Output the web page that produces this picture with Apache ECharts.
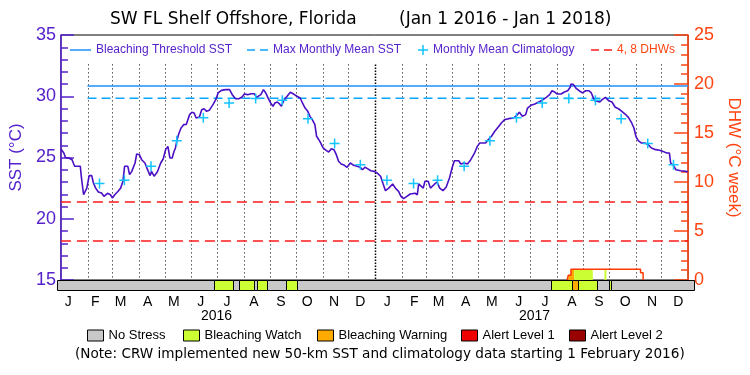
<!DOCTYPE html>
<html>
<head>
<meta charset="utf-8">
<script src="https://cdn.jsdelivr.net/npm/echarts@6/dist/echarts.min.js"></script>
<style>
  html, body { margin: 0; padding: 0; background: #fff; }
  #chart { width: 750px; height: 375px; }
</style>
</head>
<body>
<div id="chart"></div>
<script>
// x values are days counted from Jan 1 2016
const sstDay = [0, 1.5, 3.4, 5.3, 9.2, 13, 14.9, 16, 22.6, 23.7, 26.4, 28.3, 30.2, 32.9, 35.9, 37.9, 40.5, 43.6, 47.4, 50.1,
  54.3, 57.7, 60, 62.7, 66.6, 69.6, 72.3, 74.2, 78, 80, 82.6, 86.4, 88.3, 91.4, 94.1, 97.9, 101.8, 104, 105.6, 108.6,
  112.5, 116.3, 119.3, 122, 124.7, 127, 129.7, 131.6, 133.5, 135.4, 137.3, 140, 143.1, 146.1, 150, 152.6, 155.3, 157.6, 161.4, 164.1,
  166.8, 169.8, 172.9, 176.7, 180.5, 183.2, 187.1, 192, 196.6, 199.7, 203.5, 207.3, 211.2, 213.8, 217.7, 221.5, 225.3, 228, 230.3, 233,
  236.1, 238.7, 241.8, 244.4, 247.1, 249.4, 252.1, 254.8, 257, 259.7, 263.6, 267.4, 271.2, 275.1, 278.9, 281.5, 284.6, 287.7, 290.3, 293,
  296, 298, 301.8, 305.6, 309.5, 312.1, 315.2, 318.2, 321, 323.6, 326.7, 330.5, 333.5, 337.4, 341.2, 345, 348.9, 351.5, 354.3, 357.3,
  361.2, 365, 368.8, 372.6, 375.6, 378.3, 382.1, 386.7, 389.8, 393.6, 396.3, 399.4, 403.2, 407.1, 412.8, 415.4, 417, 419.3, 422.3, 424.3,
  428.1, 430.7, 433, 435.7, 438.4, 441.5, 445.3, 449, 452.9, 455.9, 458.6, 463.6, 466.2, 470.1, 473.9, 477.7, 481.6, 485.4, 488.1, 495,
  498, 501.9, 505.7, 509.5, 513.3, 517.2, 521.8, 527.5, 531.3, 534.4, 537.8, 541.7, 543.9, 547.8, 552.4, 557, 562, 565.8, 569.6, 572.4,
  575.3, 578.5, 583, 586.8, 590.7, 593.6, 594.5, 597.5, 600.2, 604, 607.9, 611.6, 615.5, 618.2, 622, 625.1, 628.1, 630.8, 634.6, 638.4,
  642.3, 646.1, 649.9, 653.8, 657.6, 661.4, 665.3, 667.9, 670.2, 672.9, 676.7, 680.6, 684.4, 688.3, 693.2, 697.8, 701.6, 706.2, 709.2, 710.7,
  713.8, 716.9, 722.6, 728.4, 731];
const sstVal = [25.7, 25.72, 25.37, 25.0, 24.96, 24.82, 24.47, 24.28, 24.28, 23.47, 21.96, 22.24, 22.5, 23.52, 23.52, 22.92, 22.5, 22.18, 22.1, 21.83,
  22.08, 21.96, 21.7, 21.96, 22.24, 22.5, 23.06, 24.28, 24.28, 23.6, 23.87, 24.55, 25.29, 25.23, 24.82, 24.55, 23.87, 23.52, 23.87, 23.47,
  23.84, 24.55, 24.9, 25.64, 25.91, 24.96, 24.96, 25.45, 25.78, 26.45, 26.92, 27.41, 27.68, 27.7, 28.5, 28.69, 28.63, 28.22, 28.3, 28.9,
  28.98, 28.77, 28.85, 29.26, 29.72, 30.27, 30.48, 30.54, 30.54, 30.13, 29.8, 29.8, 29.94, 30.18, 30.13, 30.21, 30.21, 29.91, 29.89, 30.13,
  30.54, 30.27, 29.8, 29.45, 29.18, 29.45, 29.53, 29.37, 29.18, 29.64, 30.0, 30.32, 30.18, 30.0, 29.86, 29.45, 29.04, 28.77, 28.36, 28.09,
  27.68, 26.73, 26.32, 25.78, 25.56, 25.45, 25.72, 25.64, 25.23, 24.69, 24.47, 24.36, 24.2, 24.55, 24.36, 24.28, 24.2, 24.0, 24.2, 24.09,
  23.92, 23.87, 23.73, 23.47, 22.84, 22.29, 22.5, 22.84, 22.5, 22.24, 21.83, 21.64, 21.83, 22.02, 22.08, 21.96, 22.84, 22.73, 22.5, 23.06,
  23.06, 22.5, 22.65, 22.84, 23.0, 22.5, 22.3, 22.57, 23.33, 24.14, 24.74, 24.74, 24.47, 24.55, 24.47, 24.82, 25.29, 25.91, 26.18, 26.18,
  26.45, 26.73, 27.14, 27.47, 27.82, 28.09, 28.17, 28.22, 28.44, 28.69, 28.36, 28.5, 29.04, 29.26, 29.37, 29.53, 29.72, 29.91, 30.13, 30.45,
  30.35, 30.18, 30.18, 30.35, 30.45, 30.73, 31.0, 30.95, 30.67, 30.45, 30.27, 30.45, 30.45, 30.27, 29.64, 29.6, 29.53, 29.72, 29.91, 29.64,
  29.53, 29.1, 28.98, 28.77, 28.55, 28.28, 27.82, 27.41, 26.73, 26.37, 26.18, 26.18, 26.05, 25.78, 25.64, 25.59, 25.5, 25.37, 25.37, 24.55,
  24.36, 24.0, 23.92, 23.87, 23.84];

// monthly mean climatology, Jan..Dec (shown from Feb 2016 on)
const climVal = [23.15, 22.88, 23.14, 24.28, 26.36, 28.25, 29.45, 29.82, 29.68, 28.17, 26.15, 24.4];
const climFirstMonth = 1;
const mmmSST = 29.83;
const thresholdSST = 30.83;
const lineStartDay = 31; // new climatology from 1 Feb 2016

// degree heating weeks (step values)
const dhwDay = [590, 591.4, 594.5, 675.6, 678.6];
const dhwVal = [0, 0.48, 1.09, 0.75, 0];
const dhwRefs = [4, 8];

// stress level bar: 0 none, 1 watch, 2 warning, 3 alert 1, 4 alert 2
const stressStart = [0, 180.5, 202.3, 209.2, 226.4, 229.2, 240.6, 262.5, 275.8, 566.6, 591.4, 598.3, 620, 633.5, 635.8];
const stressEnd   = [180.5, 202.3, 209.2, 226.4, 229.2, 240.6, 262.5, 275.8, 566.6, 591.4, 598.3, 620, 633.5, 635.8, 731];
const stressLevel = [0, 1, 0, 1, 0, 1, 0, 1, 0, 1, 2, 1, 0, 1, 0];
const stressNames = ['No Stress', 'Bleaching Watch', 'Bleaching Warning', 'Alert Level 1', 'Alert Level 2'];
const stressColors = ['#c8c8c8', '#ccff33', '#ffaa00', '#ee0000', '#990000'];

const monthLetters = ['J', 'F', 'M', 'A', 'M', 'J', 'J', 'A', 'S', 'O', 'N', 'D'];
const yearLabels = ['2016', '2017'];

const purple = '#5522cc';
const orange = '#ff4411';
const font = 'Liberation Sans';
const wideFont = 'DejaVu Sans';
const totalDays = 731;

const dayOf = (y, m, d) => (Date.UTC(y, m, d) - Date.UTC(2016, 0, 1)) / 86400000;

const monthStarts = [];
const monthMids = [];
for (let i = 0; i < 24; i++) {
  monthStarts.push(dayOf(2016, i, 1));
  monthMids.push(dayOf(2016, i, 14));
}
const yearMids = [dayOf(2016, 6, 2), dayOf(2017, 6, 2)];

const sstData = sstDay.map((d, i) => [d, sstVal[i]]);
const climData = [];
for (let i = climFirstMonth; i < 24; i++) {
  climData.push([dayOf(2016, i, 15), climVal[i % 12]]);
}
const dhwData = dhwDay.map((d, i) => [d, dhwVal[i]]);
const segs = stressStart.map((s, i) => [s, stressEnd[i], stressLevel[i]]);

// dhw value of the step function at day x
const dhwAt = (x) => {
  let v = 0;
  dhwDay.forEach((d, i) => { if (d <= x) v = dhwVal[i]; });
  return v;
};
const fillPoints = (s, e) => {
  const pts = [[s, 0], [s, dhwAt(s)]];
  dhwDay.forEach((d, i) => {
    if (d > s && d < e) {
      pts.push([d, dhwAt(d - 1e-6)]);
      pts.push([d, dhwVal[i]]);
    }
  });
  pts.push([e, dhwAt(e - 1e-6)]);
  pts.push([e, 0]);
  return pts;
};
const fillSegs = segs.filter(sg => sg[2] > 0);

const plusPath = 'path://M4.25,0H5.75V10H4.25Z M0,4.25H10V5.75H0Z';
const solidIcon = 'path://M0,0H21V1.5H0Z';
const dashIcon = 'path://M0,0H8V1.5H0Z M13,0H21V1.5H13Z';

const stressSeries = stressNames.map((name, k) => ({
  name,
  type: 'custom',
  xAxisIndex: 1,
  yAxisIndex: 2,
  itemStyle: { color: stressColors[k] },
  data: segs.filter(sg => sg[2] === k),
  renderItem: (params, api) => {
    const p0 = api.coord([api.value(0), 1]);
    const p1 = api.coord([api.value(1), 0]);
    return {
      type: 'rect',
      shape: { x: Math.round(p0[0]) + 0.5, y: Math.round(p0[1]) + 0.5,
        width: Math.round(p1[0]) - Math.round(p0[0]), height: Math.round(p1[1]) - Math.round(p0[1]) },
      style: { fill: stressColors[k], stroke: '#000', lineWidth: 1 }
    };
  }
}));

const topLegend = (name, left, color, icon, w, h) => ({
  left, top: 44, padding: 0, selectedMode: false,
  itemWidth: w, itemHeight: h, itemGap: 0,
  data: [{ name, icon, textStyle: { color } }],
  textStyle: { fontFamily: font, fontSize: 12, color }
});

const bottomLegend = (name, left) => ({
  left, top: 329, padding: 0, selectedMode: false, icon: 'rect',
  itemWidth: 16, itemHeight: 11,
  itemStyle: { borderColor: '#000', borderWidth: 1 },
  data: [name],
  textStyle: { fontFamily: font, fontSize: 13, color: '#000' }
});

const option = {
  animation: false,
  backgroundColor: '#fff',
  title: [
    { text: 'SW FL Shelf Offshore, Florida', left: 110, top: 11, padding: 0,
      textStyle: { fontFamily: wideFont, fontSize: 17, fontWeight: 'normal', color: '#000' } },
    { text: '(Jan 1 2016 - Jan 1 2018)', left: 399, top: 11, padding: 0,
      textStyle: { fontFamily: wideFont, fontSize: 17, fontWeight: 'normal', color: '#000' } },
    { text: '(Note: CRW implemented new 50-km SST and climatology data starting 1 February 2016)', left: 75, top: 347, padding: 0,
      textStyle: { fontFamily: wideFont, fontSize: 13.6, fontWeight: 'normal', color: '#000' } }
  ],
  legend: [
    topLegend('Bleaching Threshold SST', 70, purple, solidIcon, 21, 1.5),
    topLegend('Max Monthly Mean SST', 247, purple, dashIcon, 21, 1.5),
    topLegend('Monthly Mean Climatology', 418, purple, plusPath, 10, 10),
    topLegend('4, 8 DHWs', 591, orange, dashIcon, 21, 1.5),
    bottomLegend('No Stress', 87),
    bottomLegend('Bleaching Watch', 183),
    bottomLegend('Bleaching Warning', 317),
    bottomLegend('Alert Level 1', 461),
    bottomLegend('Alert Level 2', 569)
  ],
  grid: [
    { left: 57, right: 56, top: 35, height: 245, show: true, borderColor: '#000', borderWidth: 1 },
    { left: 57, right: 56, top: 280, height: 10, show: false }
  ],
  xAxis: [
    { gridIndex: 0, type: 'value', min: 0, max: totalDays, show: false },
    { gridIndex: 1, type: 'value', position: 'bottom', min: 0, max: totalDays,
      axisLine: { show: false }, axisTick: { show: false }, splitLine: { show: false },
      axisLabel: {
        customValues: monthMids, margin: 5, fontFamily: font, fontSize: 14, color: '#000',
        formatter: (v) => monthLetters[monthMids.findIndex(d => Math.abs(d - v) < 0.5) % 12]
      } },
    { gridIndex: 1, type: 'value', position: 'bottom', min: 0, max: totalDays,
      axisLine: { show: false }, axisTick: { show: false }, splitLine: { show: false },
      axisLabel: {
        customValues: yearMids, margin: 19, fontFamily: font, fontSize: 14, color: '#000',
        formatter: (v) => yearLabels[yearMids.findIndex(d => Math.abs(d - v) < 0.5)]
      } }
  ],
  yAxis: [
    { gridIndex: 0, type: 'value', min: 15, max: 35, interval: 5, position: 'left',
      axisLine: { show: true, lineStyle: { color: purple, width: 1.5 } },
      axisTick: { show: true, inside: true, length: 13, lineStyle: { color: purple, width: 1.5 } },
      minorTick: { show: true, splitNumber: 5, length: 7, lineStyle: { color: purple, width: 1.5 } },
      splitLine: { show: false },
      axisLabel: { color: purple, fontFamily: font, fontSize: 18, margin: 5 },
      name: 'SST (°C)', nameLocation: 'middle', nameRotate: 90, nameGap: 31,
      nameTextStyle: { color: purple, fontFamily: font, fontSize: 17 } },
    { gridIndex: 0, type: 'value', min: 0, max: 25, interval: 5, position: 'right',
      axisLine: { show: true, lineStyle: { color: orange, width: 1.5 } },
      axisTick: { show: true, inside: true, length: 14, lineStyle: { color: orange, width: 1.5 } },
      minorTick: { show: true, splitNumber: 5, length: 7, lineStyle: { color: orange, width: 1.5 } },
      splitLine: { show: false },
      axisLabel: { color: orange, fontFamily: font, fontSize: 18, margin: 6 },
      name: 'DHW (°C week)', nameLocation: 'middle', nameRotate: -90, nameGap: 23,
      nameTextStyle: { color: orange, fontFamily: font, fontSize: 17 } },
    { gridIndex: 1, type: 'value', min: 0, max: 1, show: false }
  ],
  series: [
    {
      name: 'monthLines', type: 'custom', xAxisIndex: 0, yAxisIndex: 0, z: 1, silent: true,
      data: monthStarts.slice(1).map(d => [d]),
      renderItem: (params, api) => {
        const d = api.value(0);
        const a = api.coord([d, 32.6]);
        const b = api.coord([d, 15]);
        const isYear = Math.abs(d - dayOf(2017, 0, 1)) < 0.5;
        const x = Math.round(a[0]) + 0.5;
        return {
          type: 'line',
          shape: { x1: x, y1: a[1], x2: x, y2: b[1] },
          style: { stroke: '#000', lineWidth: isYear ? 1.5 : 1, lineDash: isYear ? [1.5, 1.5] : [1, 3] }
        };
      }
    },
    {
      name: 'Bleaching Threshold SST', type: 'line', xAxisIndex: 0, yAxisIndex: 0, z: 3,
      symbol: 'none', data: [[lineStartDay, thresholdSST], [totalDays, thresholdSST]],
      itemStyle: { color: '#1f8fff' },
      lineStyle: { color: '#1f8fff', width: 1.5 }
    },
    {
      name: 'Max Monthly Mean SST', type: 'line', xAxisIndex: 0, yAxisIndex: 0, z: 3,
      symbol: 'none', data: [[lineStartDay, mmmSST], [totalDays, mmmSST]],
      itemStyle: { color: '#0aa5ff' },
      lineStyle: { color: '#0aa5ff', width: 1.5, type: [9, 5] }
    },
    {
      name: '4, 8 DHWs', type: 'line', xAxisIndex: 0, yAxisIndex: 1, z: 3,
      symbol: 'none', data: [],
      itemStyle: { color: '#ff1a1a' },
      lineStyle: { color: '#ff1a1a', width: 1.5, type: [10, 6] },
      markLine: {
        silent: true, symbol: 'none', label: { show: false },
        lineStyle: { color: '#ff1a1a', width: 1.5, type: [10, 6] },
        data: dhwRefs.map(v => ({ yAxis: v }))
      }
    },
    {
      name: 'dhwFill', type: 'custom', xAxisIndex: 0, yAxisIndex: 1, z: 2, silent: true,
      data: fillSegs,
      renderItem: (params, api) => {
        const sg = fillSegs[params.dataIndex];
        const pts = fillPoints(sg[0], sg[1]).map(p => api.coord(p));
        return { type: 'polygon', shape: { points: pts }, style: { fill: stressColors[sg[2]] } };
      }
    },
    {
      name: 'dhw', type: 'line', xAxisIndex: 0, yAxisIndex: 1, z: 4,
      step: 'end', symbol: 'none', data: dhwData,
      lineStyle: { color: '#ff3a00', width: 1.5 }
    },
    {
      name: 'sst', type: 'line', xAxisIndex: 0, yAxisIndex: 0, z: 5,
      symbol: 'none', data: sstData,
      lineStyle: { color: '#4b0fc4', width: 1.6 }
    },
    {
      name: 'Monthly Mean Climatology', type: 'scatter', xAxisIndex: 0, yAxisIndex: 0, z: 6,
      symbol: plusPath, symbolSize: 10, data: climData,
      itemStyle: { color: '#11c4ff', opacity: 1 }
    },
    ...stressSeries
  ]
};

const myChart = echarts.init(document.getElementById('chart'));
myChart.setOption(option);
</script>
</body>
</html>
